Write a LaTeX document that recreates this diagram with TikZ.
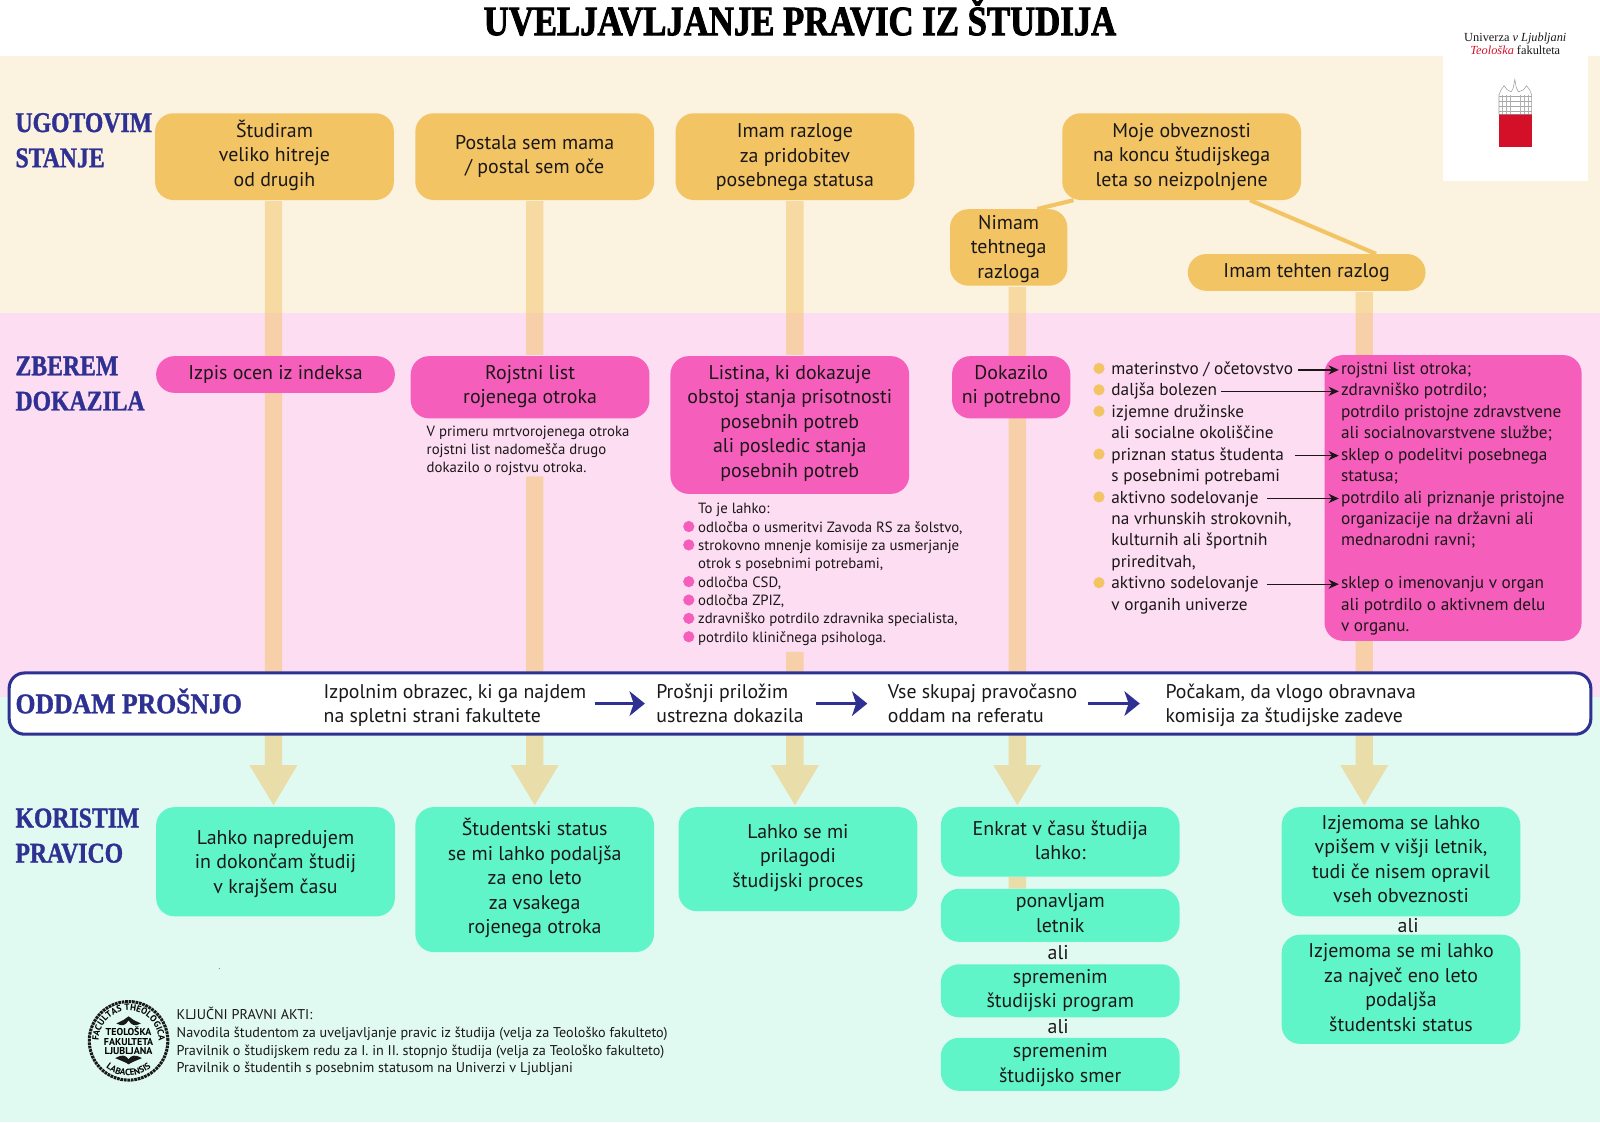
\documentclass[tikz,border=0pt]{standalone}
\usepackage{fontspec}
\usepackage{tikz}
\usetikzlibrary{arrows.meta,positioning,calc,backgrounds,decorations.text}
\setmainfont{PT Sans}
\newfontfamily\headfont[FakeStretch=.83,FakeBold=1.2]{Liberation Serif}
\newfontfamily\bandfont[FakeStretch=.90,FakeBold=1.2]{Liberation Serif}
\newfontfamily\titlefont[FakeStretch=.83,FakeBold=2]{Liberation Serif}
\newfontfamily\logofont{Liberation Serif}
\definecolor{creambg}{HTML}{FBF2E0}
\definecolor{pinkbg}{HTML}{FDDDF2}
\definecolor{mintbg}{HTML}{E0FAF2}
\definecolor{stateyellow}{HTML}{F2C464}
\definecolor{proofpink}{HTML}{F55FBB}
\definecolor{usemint}{HTML}{60F5C8}
\definecolor{headblue}{HTML}{2E3192}
\definecolor{inktext}{HTML}{1A1718}
\definecolor{logored}{HTML}{D31027}

\begin{document}
\begin{tikzpicture}[
        x=1pt,y=-1pt,
        every node/.style={text=inktext},
        box/.style={rounded corners=18, inner sep=0pt, minimum width=234, align=center, font=\fontsize{19.5}{24}\selectfont, execute at end node=\strut},
        toph/.style={execute at begin node={\rule{0pt}{#1pt}}},
        statebox/.style={box, fill=stateyellow},
        proofbox/.style={box, fill=proofpink},
        usebox/.style={box, fill=usemint},
        head/.style={anchor=west, inner sep=0pt, align=left, text=headblue, font=\fontsize{28}{34.5}\headfont\bfseries},
        bandtext/.style={anchor=west, inner sep=0pt, align=left, font=\fontsize{19.4}{24}\selectfont, execute at end node=\strut, toph=45.2},
        notetext/.style={anchor=north west, inner xsep=0pt, inner ysep=3pt, align=left, font=\fontsize{14.5}{18}\selectfont},
        listtext/.style={anchor=west, inner sep=0pt, text height=13pt, text depth=4pt, font=\fontsize{16.9}{21}\selectfont},
        yellowdot/.style={circle, fill=stateyellow, inner sep=0pt, minimum size=11},
        pinkdot/.style={circle, fill=proofpink, inner sep=0pt, minimum size=11},
        flow/.style={line width=17, draw=stateyellow, shorten <=1, shorten >=1},
        flowhead/.style={flow, -{Triangle[width=44pt,length=40pt]}},
        link/.style={line width=4, draw=stateyellow},
        thinarrow/.style={line width=1.3, draw=inktext, -{Stealth[width=9pt,length=10pt]}},
        bandarrow/.style={line width=3.5, draw=headblue, -{Stealth[width=24pt,length=15pt,inset=4pt]}}
    ]
    \useasboundingbox (0,0) rectangle (1568,1099.6);

    % title and logo
    \node[inner sep=0pt, font=\fontsize{41}{41}\titlefont\bfseries, text=black] (title) at (784,17) {UVELJAVLJANJE PRAVIC IZ ŠTUDIJA};
    \node[fill=white, minimum width=142, minimum height=122, inner sep=0pt] (logobox) at (1485,116) {};
    \node[inner sep=0pt, align=center, font=\fontsize{12.1}{12}\logofont] (logotext) at (1485,43) {Univerza \textit{v Ljubljani}\\\textcolor{logored}{\textit{Teološka}} fakulteta};
    \fill[logored] (1469,112) rectangle (1501,144);
    \draw[gray!80, line width=.5] (1469,112) -- (1469,93) -- (1471,88) -- (1474,84) -- (1477,88) -- (1481,90) -- (1483,86) -- (1484.5,78) -- (1486,86) -- (1488,90) -- (1493,88) -- (1496,84) -- (1499,88) -- (1501,93) -- (1501,112) -- cycle;
    \foreach \y in {94,99,104,109} \draw[gray!70, line width=.6] (1469,\y) -- (1501,\y);
    \foreach \x in {1472,1476,1480,1490,1494,1498} \draw[gray!60, line width=.6] (\x,93) -- (\x,112);

    % row 1
    \node[head] (h1) at (15,137.5) {UGOTOVIM\\STANJE};
    \node[statebox, minimum height=85, toph=65.2] (s1) at (269,153.5) {Študiram\\veliko hitreje\\od drugih};
    \node[statebox, minimum height=85, toph=41.2] (s2) at (524,153.5) {Postala sem mama\\/ postal sem oče};
    \node[statebox, minimum height=85, toph=66.2] (s3) at (779,153.5) {Imam razloge\\za pridobitev\\posebnega statusa};
    \node[statebox, minimum height=85, toph=65.2] (s4) at (1158,153.5) {Moje obveznosti\\na koncu študijskega\\leta so neizpolnjene};
    \node[statebox, minimum width=115, minimum height=75, toph=67.2] (n4) at (988.5,242.5) {Nimam\\tehtnega\\razloga};
    \node[statebox, minimum width=233, minimum height=36, toph=16.2] (t5) at (1280.5,267) {Imam tehten razlog};

    % row 2
    \node[head] (h2) at (15,376) {ZBEREM\\DOKAZILA};
    \node[proofbox, minimum height=36, toph=16.2] (d1) at (270,367) {Izpis ocen iz indeksa};
    \node[proofbox, minimum height=61, toph=39.2] (d2) at (519.5,379.5) {Rojstni list\\rojenega otroka};
    \node[proofbox, minimum height=135, toph=109.2] (d3) at (774,416.5) {Listina, ki dokazuje\\obstoj stanja prisotnosti\\posebnih potreb\\ali posledic stanja\\posebnih potreb};
    \node[proofbox, minimum width=116, minimum height=61, toph=39.2] (d4) at (991,379.5) {Dokazilo\\ni potrebno};
    \node[proofbox, minimum width=252, minimum height=280] (d5) at (1424,488) {};
    \node[notetext] (d2note) at (418,414) {V primeru mrtvorojenega otroka\\rojstni list nadomešča drugo\\dokazilo o rojstvu otroka.};
    \node[notetext] (d3note) at (684,490) {To je lahko:\\odločba o usmeritvi Zavoda RS za šolstvo,\\strokovno mnenje komisije za usmerjanje\\otrok s posebnimi potrebami,\\odločba CSD,\\odločba ZPIZ,\\zdravniško potrdilo zdravnika specialista,\\potrdilo kliničnega psihologa.};
    \foreach \i in {1,2,4,5,6,7}
        \node[pinkdot] (pd\i) at (675,498+18*\i) {};

    \foreach \txt [count=\i] in {materinstvo / očetovstvo,daljša bolezen,izjemne družinske,ali socialne okoliščine,priznan status študenta,s posebnimi potrebami,aktivno sodelovanje,{na vrhunskih strokovnih,},kulturnih ali športnih,{prireditvah,},aktivno sodelovanje,v organih univerze}
        \node[listtext] (l\i) at (1089,341.5+21*\i) {\txt};
    \foreach \txt [count=\i] in {rojstni list otroka;,zdravniško potrdilo;,potrdilo pristojne zdravstvene,ali socialnovarstvene službe;,sklep o podelitvi posebnega,statusa;,potrdilo ali priznanje pristojne,organizacije na državni ali,mednarodni ravni;,{},sklep o imenovanju v organ,ali potrdilo o aktivnem delu,v organu.}
        \node[listtext] (r\i) at (1314,341.5+21*\i) {\txt};
    \foreach \i in {1,2,3,5,7,11} {
        \node[yellowdot] (yd\i) at (1077,340+21*\i) {};
    }
    \foreach \i/\gap in {1/5,2/4,5/11,7/8,11/8}
        \draw[thinarrow, shorten <=\gap, shorten >=2] (l\i) -- (r\i);

    % band
    \node[fill=white, draw=headblue, line width=3, rounded corners=15, minimum width=1550, minimum height=60, inner sep=0pt] (band) at (784,689.5) {};
    \node[head, font=\fontsize{28}{34.5}\bandfont\bfseries] (h3) at (15,687) {ODDAM PROŠNJO};
    \node[bandtext] (b1) at (317,689.5) {Izpolnim obrazec, ki ga najdem\\na spletni strani fakultete};
    \node[bandtext] (b2) at (643,689.5) {Prošnji priložim\\ustrezna dokazila};
    \node[bandtext] (b3) at (870,689.5) {Vse skupaj pravočasno\\oddam na referatu};
    \node[bandtext] (b4) at (1142,689.5) {Počakam, da vlogo obravnava\\komisija za študijske zadeve};
    \draw[bandarrow, shorten <=8, shorten >=11] (b1) -- (b2);
    \draw[bandarrow, shorten <=12, shorten >=20] (b2) -- (b3);
    \draw[bandarrow, shorten <=10, shorten >=25] (b3) -- (b4);

    % row 4
    \node[head] (h4) at (15,819) {KORISTIM\\PRAVICO};
    \node[usebox, minimum height=107, toph=69.2] (k1) at (270,844.5) {Lahko napredujem\\in dokončam študij\\v krajšem času};
    \node[usebox, minimum height=142, toph=112.2] (k2) at (524,862) {Študentski status\\se mi lahko podaljša\\za eno leto\\za vsakega\\rojenega otroka};
    \node[usebox, minimum height=102, toph=60.2] (k3) at (782,842) {Lahko se mi\\prilagodi\\študijski proces};
    \node[usebox, minimum height=68, toph=42.2] (k4a) at (1039,825) {Enkrat v času študija\\lahko:};
    \node[usebox, minimum height=52, toph=40.2] (k4b) at (1039,897) {ponavljam\\letnik};
    \node[box, toph=20.2] (ali1) at (1037,934) {ali};
    \node[usebox, minimum height=52, toph=40.2] (k4c) at (1039,971) {spremenim\\študijski program};
    \node[box, toph=20.2] (ali2) at (1037,1006) {ali};
    \node[usebox, minimum height=52, toph=42.2] (k4d) at (1039,1043) {spremenim\\študijsko smer};
    \node[usebox, minimum height=107, toph=87.2] (k5a) at (1373,844.5) {Izjemoma se lahko\\vpišem v višji letnik,\\tudi če nisem opravil\\vseh obveznosti};
    \node[box, toph=20.2] (ali3) at (1380,907) {ali};
    \node[usebox, minimum height=107, toph=89.2] (k5b) at (1373,969.5) {Izjemoma se mi lahko\\za največ eno leto\\podaljša\\študentski status};

    % footer
    \fill[black!50] (215,949) circle (.6);
    \node[anchor=north west, inner sep=0pt, align=left, font=\fontsize{13.9}{17.4}\selectfont] (acts) at (173,987) {KLJUČNI PRAVNI AKTI:\\Navodila študentom za uveljavljanje pravic iz študija (velja za Teološko fakulteto)\\Pravilnik o študijskem redu za I. in II. stopnjo študija (velja za Teološko fakulteto)\\Pravilnik o študentih s posebnim statusom na Univerzi v Ljubljani};
    \node[circle, draw=black!90, line width=3, dash pattern=on 2.6pt off .8pt, minimum size=77, inner sep=0pt, align=center, font=\fontsize{9.8}{9}\selectfont\bfseries] (seal) at (126,1020) {\textcolor{black}{TEOLOŠKA}\\\textcolor{black}{FAKULTETA}\\\textcolor{black}{LJUBLJANA}};
    \begin{scope}[shift={(126,1020)},x=1pt,y=1pt]
        \path[postaction={decorate},decoration={text along path,text align=center,text={|\fontsize{8.9}{9}\selectfont\bfseries|FACULTAS THEOLOGICA}}] (-27.6,-10) arc (200:-20:29.4);
        \path[postaction={decorate},decoration={text along path,text align=center,text={|\fontsize{8.9}{9}\selectfont\bfseries|LABACENSIS}}] (-23.8,-24.7) arc (226:314:34.3);
        \fill[black!90] (-12,17) .. controls (-6,14) and (-3,15) .. (0,20) .. controls (3,15) and (6,14) .. (12,17) .. controls (6,20) and (3,21) .. (0,24) .. controls (-3,21) and (-6,20) .. (-12,17);
        \fill[black!90] (-13,-17) .. controls (-6,-13) and (-3,-14) .. (0,-18) .. controls (3,-14) and (6,-13) .. (13,-17) .. controls (6,-20) and (3,-21) .. (0,-23) .. controls (-3,-21) and (-6,-20) .. (-13,-17);
    \end{scope}

    % backgrounds and flows
    \begin{scope}[on background layer]
        \fill[creambg] (0,55) rectangle (1568,307);
        \fill[pinkbg] (0,307) rectangle (1568,683);
        \fill[mintbg] (0,683) rectangle (1568,1099.6);
        \begin{scope}[transparency group, opacity=.5]
            \draw[flowhead] ([xshift=-1pt]s1.south) -- ([xshift=-1pt]s1.south |- k1.north);
            \draw[flow] (s2.south) -- (s2.south |- d2.north);
            \draw[flowhead] ([yshift=4pt]s2.south |- d2note.south) -- (s2.south |- k2.north);
            \draw[flow] (s3.south) -- (s3.south |- d3.north);
            \draw[flowhead] ([yshift=-2pt]s3.south |- d3note.south) -- (s3.south |- k3.north);
            \draw[flowhead] ([xshift=8.5pt]n4.south) -- ([xshift=8.5pt]n4.south |- k4a.north);
            \draw[flowhead] ([xshift=56.5pt]t5.south) -- ([xshift=56.5pt]t5.south |- k5a.north);
            \draw[flow, shorten <=0, shorten >=0] ([xshift=8.5pt]n4.south |- k4a.south) -- ([xshift=8.5pt]n4.south |- k4b.north);
        \end{scope}
    \end{scope}
    \draw[link] ([xshift=-106pt]s4.south) -- ([xshift=28pt]n4.north);
    \draw[link] ([xshift=67pt]s4.south) -- ([xshift=68pt]t5.north);
\end{tikzpicture}
\end{document}
